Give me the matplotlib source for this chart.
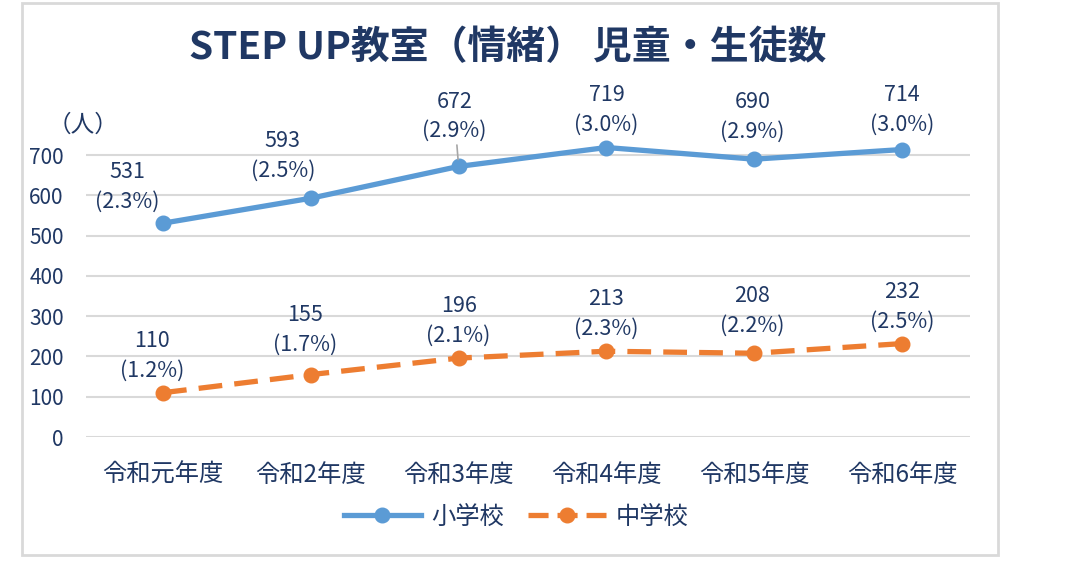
import matplotlib
matplotlib.use('Agg')
import matplotlib.pyplot as plt
from matplotlib.patches import Rectangle

plt.rcParams['font.family'] = ['Noto Sans CJK JP', 'DejaVu Sans']

years = ['令和元年度', '令和2年度', '令和3年度', '令和4年度', '令和5年度', '令和6年度']
elem = [531, 593, 672, 719, 690, 714]
elem_pct = ['2.3%', '2.5%', '2.9%', '3.0%', '2.9%', '3.0%']
junior = [110, 155, 196, 213, 208, 232]
junior_pct = ['1.2%', '1.7%', '2.1%', '2.3%', '2.2%', '2.5%']

# label offsets in pixels (dx, dy) from each point, like excel placed them
elem_off = [(-36, 36), (-28, 42), (-4, 50), (0, 38), (-2, 42), (0, 40)]
junior_off = [(-11, 37), (-6, 45), (0, 37), (0, 37), (-2, 42), (0, 37)]

navy = '#203864'
blue = '#5B9BD5'
orange = '#ED7D31'

fig = plt.figure(figsize=(10.71, 5.63), dpi=100)
fig.patches.append(Rectangle((22 / 1071, 8 / 563), 976 / 1071, 552 / 563,
                             transform=fig.transFigure, fill=False,
                             edgecolor='#D9D9D9', linewidth=2))

ax = fig.add_axes([86 / 1071, 126 / 563, 884 / 1071, 306 / 563])
x = range(len(years))
ax.plot(x, elem, color=blue, linewidth=3.8, marker='o', markersize=10.5,
        label='小学校', clip_on=False, zorder=3)
ax.plot(x, junior, color=orange, linewidth=3.8, marker='o', markersize=10.5,
        linestyle=(0, (4.5, 2.3)), label='中学校', clip_on=False, zorder=3)

for i in x:
    lead = None
    if i == 2:
        lead = dict(arrowstyle='-', color='#A6A6A6', lw=1.2, shrinkA=24, shrinkB=5)
    ax.annotate(f'{elem[i]}\n({elem_pct[i]})', (i, elem[i]), xytext=elem_off[i],
                textcoords='offset pixels', ha='center', va='center',
                fontsize=15.5, color=navy, linespacing=1.45, arrowprops=lead)
    ax.annotate(f'{junior[i]}\n({junior_pct[i]})', (i, junior[i]), xytext=junior_off[i],
                textcoords='offset pixels', ha='center', va='center',
                fontsize=15.5, color=navy, linespacing=1.45)

ax.set_xlim(-0.521, 5.46)
ax.set_ylim(0, 760)
ax.set_yticks(range(0, 701, 100))
ax.set_xticks(list(x))
ax.set_xticklabels(years)
ax.grid(axis='y', color='#D9D9D9', linewidth=1.5)
ax.set_axisbelow(True)
for s in ax.spines.values():
    s.set_visible(False)
ax.tick_params(axis='both', length=0, colors=navy)
ax.tick_params(axis='x', labelsize=17.5, pad=18)
ax.tick_params(axis='y', labelsize=15, pad=16)

fig.text(83 / 1071, 1 - 125 / 563, '（人）', ha='center', va='center',
         fontsize=17, color=navy)
fig.text(508 / 1071, 1 - 48 / 563, 'STEP UP教室（情緒） 児童・生徒数', ha='center',
         va='center', fontsize=28, color=navy, fontweight='bold')

leg = fig.legend(loc='center', bbox_to_anchor=(516 / 1071, 1 - 517 / 563), ncol=2,
                 frameon=False, fontsize=17.5, handlelength=3.2, columnspacing=1.0,
                 handletextpad=0.4)
for t in leg.get_texts():
    t.set_color(navy)
# excel-style legend dash: dash, marker, dash
leg.legend_handles[1].set_linestyle((0, (3.8, 1.7)))

fig.savefig('out.png', dpi=100)
